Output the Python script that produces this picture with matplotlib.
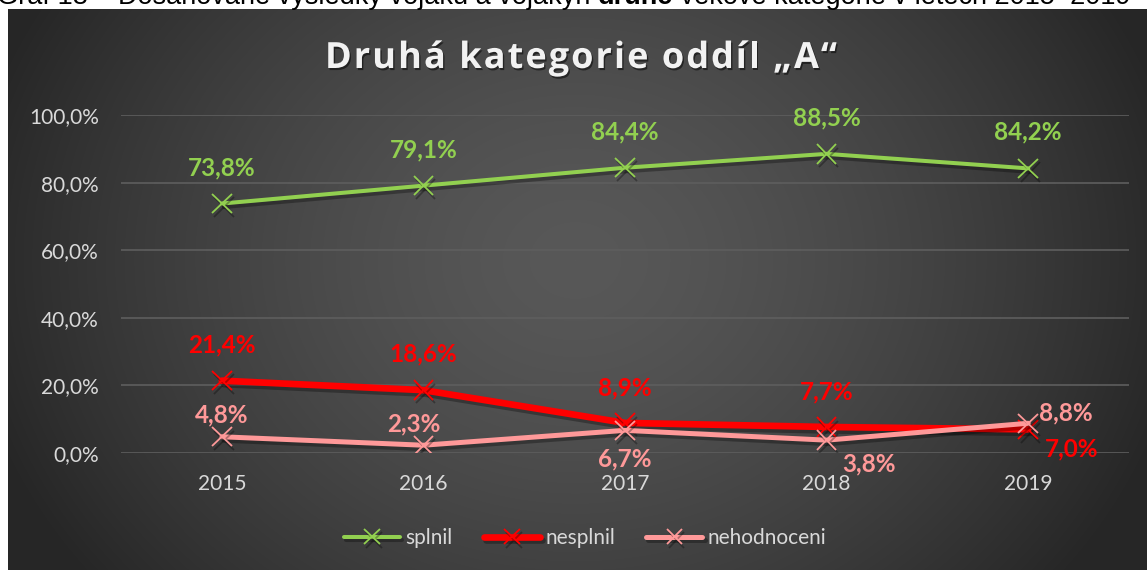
import numpy as np
import matplotlib
matplotlib.use('Agg')
import matplotlib.pyplot as plt
import matplotlib.patheffects as pe
from matplotlib.ticker import FuncFormatter

W, H = 1147, 570

YEARS = ['2015', '2016', '2017', '2018', '2019']
SPLNIL = [73.8, 79.1, 84.4, 88.5, 84.2]
NESPLNIL = [21.4, 18.6, 8.9, 7.7, 7.0]
NEHODNOCENI = [4.8, 2.3, 6.7, 3.8, 8.8]

TITLE = 'Druhá kategorie oddíl „A“'
CAPTION = ['Graf 18 – Dosahované výsledky vojáků a vojákyň ', 'druhé',
           ' věkové kategorie v letech 2015–2019']

GREEN = '#92D050'
RED = '#FF0000'
PINK = '#FF9999'
TICK = '#D9D9D9'
GRID = '#5E5E5E'

# label offsets in pixels (dx, dy up)
OFF_GREEN = [(0, 36)] * 5
OFF_RED = [(0, 36), (0, 36), (0, 35), (0, 35), (43, -20)]
OFF_PINK = [(0, 22), (-10, 21), (0, -29), (42, -24), (38, 10)]

plt.rcParams['font.family'] = ['Lato', 'DejaVu Sans']

fig = plt.figure(figsize=(W / 100, H / 100), dpi=100)
fig.patch.set_facecolor('white')
renderer = fig.canvas.get_renderer()

# dark radial background
bg = fig.add_axes([8 / W, 0, 1 - 8 / W, 561 / H])
bg.set_axis_off()
xx, yy = np.meshgrid(np.arange(8, W), np.arange(9, H))
d = np.sqrt(((xx - 575) / 620.0) ** 2 + ((yy - 260) / 520.0) ** 2)
d = np.clip(d, 0, 1) ** 1.5
g = (0x58 - (0x58 - 0x26) * d) / 255.0
bg.imshow(np.dstack([g, g, g]), aspect='auto', interpolation='bilinear')

# caption cut off at the top (as in the source document)
x = -3
for i, part in enumerate(CAPTION):
    t = fig.text(x / W, 1 - 4.5 / H, part, fontsize=19.5, color='black',
                 family='Liberation Sans', va='baseline',
                 fontweight='bold' if i == 1 else 'normal')
    x = t.get_window_extent(renderer).x1

ax = fig.add_axes([121 / W, 1 - 453 / H, (1129 - 121) / W, (453 - 115) / H])
ax.set_facecolor('none')
ax.set_xlim(-0.5, 4.5)
ax.set_ylim(0, 100)
ax.set_yticks(np.arange(0, 101, 20))
ax.yaxis.set_major_formatter(
    FuncFormatter(lambda v, p: '{:.1f}%'.format(v).replace('.', ',')))
ax.set_xticks(range(len(YEARS)))
ax.set_xticklabels(YEARS)
ax.tick_params(length=0, colors=TICK, labelsize=15)
ax.tick_params(axis='y', pad=16)
ax.tick_params(axis='x', pad=15)
for s in ax.spines.values():
    s.set_visible(False)
ax.grid(axis='y', color=GRID, linewidth=1.2)
ax.set_axisbelow(True)

shadow = [pe.SimpleLineShadow(offset=(1.5, -2.5), shadow_color='black', alpha=0.3),
          pe.Normal()]

series = [
    ('splnil', SPLNIL, GREEN, 2.9, OFF_GREEN),
    ('nesplnil', NESPLNIL, RED, 4.8, OFF_RED),
    ('nehodnoceni', NEHODNOCENI, PINK, 3.6, OFF_PINK),
]
handles = []
xs = np.arange(len(YEARS))
for name, vals, col, lw, offs in series:
    ln, = ax.plot(xs, vals, color=col, linewidth=lw, marker='x',
                  markersize=14, markeredgewidth=1.3, label=name,
                  solid_capstyle='round', path_effects=shadow)
    handles.append(ln)
    for xi, v, (dx, dy) in zip(xs, vals, offs):
        ax.annotate('{:.1f}%'.format(v).replace('.', ','), (xi, v),
                    xytext=(dx * 0.72, dy * 0.72), textcoords='offset points',
                    ha='center', va='center', color=col, fontsize=17.5,
                    fontweight='bold')

# title with letter spacing, drawn char by char
title_kw = dict(fontsize=26, fontweight='bold', color='#F2F2F2',
                family=['Open Sans', 'DejaVu Sans'], va='baseline',
                path_effects=[pe.withSimplePatchShadow(offset=(1, -1.5),
                                                       shadow_rgbFace='black',
                                                       alpha=0.5)])
spacing = 2.0
chars = []
x = 0.0
for ch in TITLE:
    t = fig.text(0, 0, ch, **title_kw)
    if ch == ' ':
        w = t.get_window_extent(renderer).width
        w = w if w > 1 else 8
    else:
        w = t.get_window_extent(renderer).width
    chars.append((t, x))
    x += w + spacing
total = x - spacing
x0 = 581 - total / 2
for t, cx in chars:
    t.set_position(((x0 + cx) / W, 1 - 68 / H))

leg = fig.legend(handles=handles, loc='center', ncol=3,
                 bbox_to_anchor=(585 / W, 1 - 538 / H), frameon=False,
                 fontsize=15, handlelength=2.7, handletextpad=0.25,
                 columnspacing=1.5, markerscale=0.8)
for t in leg.get_texts():
    t.set_color(TICK)

fig.savefig('out.png', dpi=100)
